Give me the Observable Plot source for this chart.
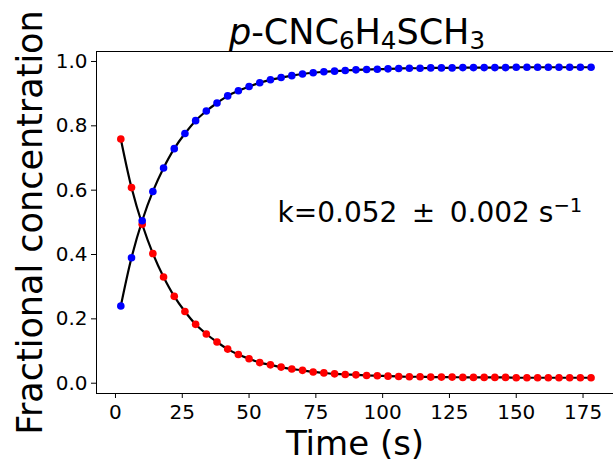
<!DOCTYPE html>
<html>
<head>
<meta charset="utf-8">
<script src="https://cdn.jsdelivr.net/npm/d3@7"></script>
<script src="https://cdn.jsdelivr.net/npm/@observablehq/plot@0.6"></script>
<style>
  html, body { margin: 0; padding: 0; background: white; }
</style>
</head>
<body>
<div id="chart"></div>
<script>
// Time points (s)
const time = [2, 6, 10, 14, 18, 22, 26, 30, 34, 38, 42, 46, 50, 54, 58, 62, 66, 70, 74, 78, 82, 86, 90,
  94, 98, 102, 106, 110, 114, 118, 122, 126, 130, 134, 138, 142, 146, 150, 154, 158, 162, 166, 170, 174, 178];
// Decaying species (red)
const redSeries = [0.759, 0.608, 0.494, 0.403, 0.330, 0.270, 0.223, 0.183, 0.153, 0.128, 0.106, 0.089, 0.076,
  0.064, 0.057, 0.050, 0.044, 0.040, 0.035, 0.032, 0.029, 0.027, 0.026, 0.024, 0.023, 0.022, 0.021, 0.020,
  0.020, 0.019, 0.019, 0.019, 0.018, 0.018, 0.018, 0.018, 0.018, 0.017, 0.017, 0.017, 0.017, 0.017, 0.017, 0.017, 0.017];
// Growing species (blue)
const blueSeries = [0.240, 0.390, 0.505, 0.596, 0.669, 0.729, 0.776, 0.816, 0.846, 0.871, 0.893, 0.909, 0.922,
  0.934, 0.943, 0.950, 0.956, 0.961, 0.965, 0.968, 0.970, 0.972, 0.974, 0.975, 0.976, 0.977, 0.978, 0.979,
  0.979, 0.980, 0.980, 0.980, 0.981, 0.981, 0.981, 0.981, 0.981, 0.982, 0.982, 0.982, 0.982, 0.982, 0.982, 0.982, 0.982];
const xTicks = [0, 25, 50, 75, 100, 125, 150, 175];
const yTicks = [0.0, 0.2, 0.4, 0.6, 0.8, 1.0];

const rows = time.map((t, i) => ({t, red: redSeries[i], blue: blueSeries[i]}));

const chart = Plot.plot({
  width: 613,
  height: 460,
  marginLeft: 96,
  marginRight: 0,
  marginTop: 51,
  marginBottom: 67,
  x: {domain: [-7.1, 186.4]},
  y: {domain: [-0.032, 1.031]},
  style: {fontFamily: "DejaVu Sans", background: "white", color: "black", overflow: "visible"},
  marks: [
    Plot.axisX({ticks: xTicks, tickSize: 5, tickPadding: 6, fontSize: 20, label: null, tickFormat: d => String(d)}),
    Plot.axisY({ticks: yTicks, tickSize: 5, tickPadding: 4, fontSize: 20, label: null, tickFormat: d3.format(".1f")}),
    Plot.line(rows, {x: "t", y: "red", stroke: "black", strokeWidth: 2.2, curve: "catmull-rom"}),
    Plot.line(rows, {x: "t", y: "blue", stroke: "black", strokeWidth: 2.2, curve: "catmull-rom"}),
    Plot.dot(rows, {x: "t", y: "red", r: 3.8, fill: "#ff0000", stroke: "none"}),
    Plot.dot(rows, {x: "t", y: "blue", r: 3.8, fill: "#0000ff", stroke: "none"}),
    Plot.frame({stroke: "black", strokeWidth: 1}),
    Plot.text(["__TITLE__"], {text: d => d, frameAnchor: "top", textAnchor: "middle", lineAnchor: "bottom", dy: -8, dx: 2, fontSize: 35}),
    Plot.text(["Time (s)"], {text: d => d, frameAnchor: "bottom", textAnchor: "middle", lineAnchor: "bottom", dy: 61, fontSize: 34}),
    Plot.text(["Fractional concentration"], {text: d => d, frameAnchor: "left", textAnchor: "middle", lineAnchor: "bottom", rotate: -90, dx: -55, fontSize: 35}),
    Plot.text(["__KTEXT__"], {text: d => d, frameAnchor: "top-left", textAnchor: "start", lineAnchor: "bottom", dx: 181, dy: 170, fontSize: 28})
  ]
});

document.getElementById("chart").appendChild(chart);

function rich(placeholder, parts) {
  d3.select(chart).selectAll("text").filter(function () { return this.textContent === placeholder; })
    .each(function () {
      const el = d3.select(this);
      el.text(null);
      let offset = 0;
      for (const p of parts) {
        const ts = el.append("tspan").text(p.t);
        const target = p.shift || 0;
        if (target - offset !== 0) ts.attr("dy", (target - offset) + "px");
        offset = target;
        if (p.size) ts.attr("font-size", p.size + "px");
        if (p.italic) ts.attr("font-style", "italic");
      }
    });
}

rich("__TITLE__", [
  {t: "p", italic: true},
  {t: "-CNC"},
  {t: "6", shift: 5, size: 24.5},
  {t: "H"},
  {t: "4", shift: 5, size: 24.5},
  {t: "SCH"},
  {t: "3", shift: 5, size: 24.5}
]);

rich("__KTEXT__", [
  {t: "k=0.052 \u2009\u00b1\u2009 0.002 s"},
  {t: "\u22121", shift: -10, size: 19.6}
]);
</script>
</body>
</html>
